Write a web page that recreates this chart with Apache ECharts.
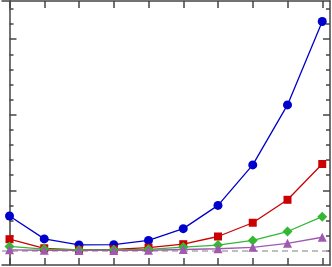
<!DOCTYPE html>
<html><head><meta charset="utf-8">
<script src="https://cdn.jsdelivr.net/npm/echarts@6/dist/echarts.min.js"></script>
<style>html,body{margin:0;padding:0;background:#fff}#c{width:332px;height:267px}</style>
</head><body><div id="c"></div>
<script>
const xValues = [0,1,2,3,4,5,6,7,8,9];
const blueSeries   = [2.30, 0.78, 0.38, 0.40, 0.68, 1.46, 3.00, 5.68, 9.65, 15.17];
const redSeries    = [0.76, 0.16, 0.06, 0.09, 0.20, 0.43, 0.94, 1.85, 3.37, 5.74];
const greenSeries  = [0.28, 0.11, 0.05, 0.06, 0.09, 0.24, 0.37, 0.68, 1.27, 2.25];
const purpleSeries = [0.06, 0.03, 0.02, 0.02, 0.03, 0.08, 0.13, 0.22, 0.49, 0.89];
const minorYTicks = [-1,0,1,2,3,4,5,6,7,8,9,10,11,12,13,14,15,16];
const majorYTicks = [-1,4,9,14];

const X_MIN = -0.216, X_MAX = 9.223, Y_MIN = -0.947, Y_MAX = 16.53;
const axisColor = '#444';

function pairs(arr){ return arr.map((v,i)=>[xValues[i], v]); }

function yAx(pos, ticks, len, showLine){
  return {type:'value', position:pos, min:Y_MIN, max:Y_MAX, scale:true,
    axisLine:{show:showLine, lineStyle:{color:axisColor, width:1.5}},
    axisTick:{show:true, inside:true, length:len, customValues:ticks, lineStyle:{color:axisColor, width:1.5}},
    axisLabel:{show:false}, splitLine:{show:false}};
}
function xAx(pos){
  return {type:'value', position:pos, min:X_MIN, max:X_MAX,
    axisLine:{show:true, onZero:false, lineStyle:{color:axisColor, width:1.5}},
    axisTick:{show:true, inside:true, length:7, customValues:xValues, lineStyle:{color:axisColor, width:1.5}},
    axisLabel:{show:false}, splitLine:{show:false}};
}
function ser(name, data, color, symbol, size){
  return {name, type:'line', data:pairs(data), xAxisIndex:0, yAxisIndex:0,
    symbol, symbolSize:size, showSymbol:true,
    lineStyle:{color, width:1.3}, itemStyle:{color}, z:3, animation:false};
}
const chart = echarts.init(document.getElementById('c'));
const purple = ser('d', purpleSeries, '#a058b0', 'triangle', 9);
const s = [
  ser('a', blueSeries, '#0000cc', 'circle', 9),
  ser('b', redSeries, '#cc0000', 'rect', 8),
  ser('c', greenSeries, '#33b833', 'diamond', 10),
  purple
];
s[0].markLine = {silent:true, symbol:'none', label:{show:false},
  lineStyle:{color:'#aaaaaa', type:[6,4], width:1.5}, data:[{yAxis:0}], z:1};
chart.setOption({
  animation:false,
  grid:{left:2, right:2, top:1, bottom:2},
  xAxis:[xAx('bottom'), xAx('top')],
  yAxis:[yAx('left', minorYTicks, 4, true), yAx('left', majorYTicks, 7, false),
         yAx('right', minorYTicks, 4, true), yAx('right', majorYTicks, 7, false)],
  series:s
});
</script></body></html>
